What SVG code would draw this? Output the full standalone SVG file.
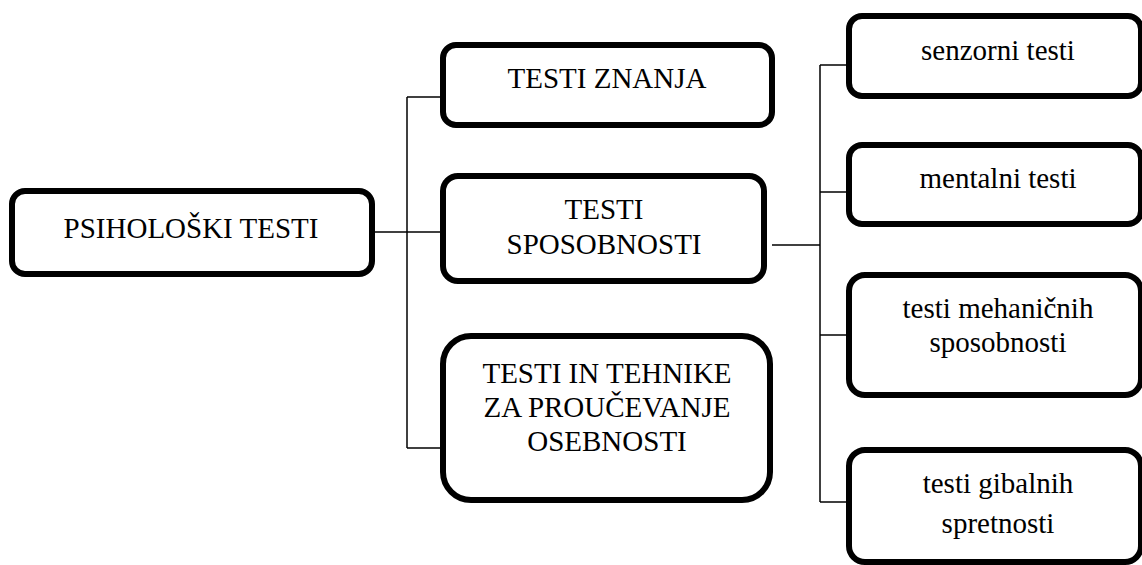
<svg xmlns="http://www.w3.org/2000/svg" width="1142" height="565" viewBox="0 0 1142 565">
  <style>
    .box { fill: #ffffff; stroke: #000000; stroke-width: 6; }
    .lbl { font-family: 'Liberation Serif', 'Times New Roman', Times, 'DejaVu Serif', serif; font-size: 29px; fill: #000000; text-anchor: middle; }
    .wire { fill: none; stroke: #000000; stroke-width: 1.5; }
  </style>
  <rect width="1142" height="565" fill="#ffffff"/>

  <!-- connectors -->
  <g id="connectors">
    <path class="wire" d="M375 232 H440"/>
    <path class="wire" d="M407 97 V448"/>
    <path class="wire" d="M407 97 H440"/>
    <path class="wire" d="M407 448 H440"/>
    <path class="wire" d="M772 245 H820"/>
    <path class="wire" d="M820 65 V502"/>
    <path class="wire" d="M820 65 H846"/>
    <path class="wire" d="M820 192 H846"/>
    <path class="wire" d="M820 335 H846"/>
    <path class="wire" d="M820 502 H846"/>
  </g>

  <!-- root -->
  <g id="psiholoski-testi">
    <rect class="box" x="12" y="191" width="360" height="83" rx="13"/>
    <text class="lbl" x="191" y="238">PSIHOLOŠKI TESTI</text>
  </g>

  <!-- second level -->
  <g id="testi-znanja">
    <rect class="box" x="443" y="45" width="329" height="80" rx="13"/>
    <text class="lbl" x="607" y="88">TESTI ZNANJA</text>
  </g>
  <g id="testi-sposobnosti">
    <rect class="box" x="443" y="176" width="321" height="105" rx="15"/>
    <text class="lbl" x="604" y="219">TESTI</text>
    <text class="lbl" x="604" y="254">SPOSOBNOSTI</text>
  </g>
  <g id="testi-osebnosti">
    <rect class="box" x="443" y="336" width="327" height="164" rx="28"/>
    <text class="lbl" x="607" y="383">TESTI IN TEHNIKE</text>
    <text class="lbl" x="607" y="417">ZA PROUČEVANJE</text>
    <text class="lbl" x="607" y="451">OSEBNOSTI</text>
  </g>

  <!-- third level -->
  <g id="senzorni-testi">
    <rect class="box" x="849" y="16" width="292" height="80" rx="13"/>
    <text class="lbl" x="998" y="60">senzorni testi</text>
  </g>
  <g id="mentalni-testi">
    <rect class="box" x="849" y="145" width="292" height="79" rx="13"/>
    <text class="lbl" x="998" y="188">mentalni testi</text>
  </g>
  <g id="mehanicne-sposobnosti">
    <rect class="box" x="849" y="275" width="292" height="120" rx="16"/>
    <text class="lbl" x="998" y="318">testi mehaničnih</text>
    <text class="lbl" x="998" y="352">sposobnosti</text>
  </g>
  <g id="gibalne-spretnosti">
    <rect class="box" x="849" y="450" width="292" height="112" rx="16"/>
    <text class="lbl" x="998" y="493">testi gibalnih</text>
    <text class="lbl" x="998" y="533">spretnosti</text>
  </g>
</svg>
